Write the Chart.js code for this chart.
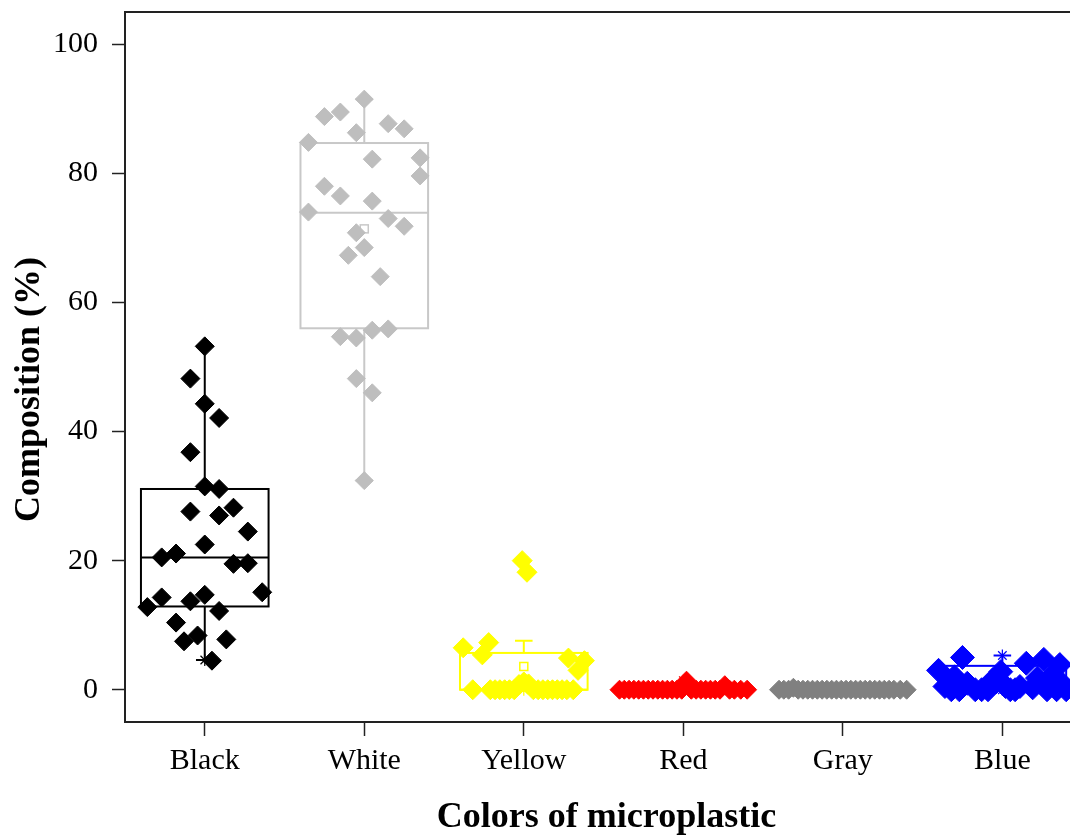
<!DOCTYPE html>
<html>
<head>
<meta charset="utf-8">
<title>Colors of microplastic</title>
<script src="https://cdn.jsdelivr.net/npm/chart.js@4.4.1/dist/chart.umd.min.js"></script>
<style>
    html, body { margin: 0; padding: 0; background: #ffffff; overflow: hidden; }
</style>
</head>
<body>
<canvas id="grafico" width="1070" height="839"></canvas>
<script>
const categories = ["Black", "White", "Yellow", "Red", "Gray", "Blue"];
const yTickValues = [0, 20, 40, 60, 80, 100];

// composition (%) of each sample, with its horizontal jitter (category units)
const blackValues = [53.2, 48.2, 44.3, 42.1, 36.8, 31.5, 31.1, 27.6, 27.0, 28.2, 24.5, 22.5, 20.5, 21.1, 19.5, 19.6, 15.1, 12.8, 14.3, 13.7, 14.7, 12.2, 10.4, 7.5, 8.4, 7.8, 4.5];
const blackJitter = [0, -0.09, 0, 0.09, -0.09, 0, 0.09, -0.09, 0.09, 0.18, 0.27, 0, -0.27, -0.18, 0.18, 0.27, 0.36, -0.36, -0.27, -0.09, 0, 0.09, -0.18, -0.13, -0.045, 0.135, 0.045];

const whiteValues = [91.5, 88.8, 89.5, 87.7, 86.9, 86.3, 84.8, 82.2, 82.4, 79.6, 78.0, 76.5, 75.7, 74.0, 73.0, 71.8, 70.8, 68.5, 67.3, 64.0, 54.7, 54.5, 55.7, 55.9, 48.2, 46.0, 32.4];
const whiteJitter = [0, -0.25, -0.15, 0.15, 0.25, -0.05, -0.35, 0.05, 0.35, 0.35, -0.25, -0.15, 0.05, -0.35, 0.15, 0.25, -0.05, 0, -0.1, 0.1, -0.15, -0.05, 0.05, 0.15, -0.05, 0.05, 0];

const yellowValues = [20.0, 18.2, 6.5, 7.3, 5.4, 4.9, 4.5, 3.0, 0, 0, 0, 0, 0, 0, 0, 0.8, 1.2, 0.9, 0, 0, 0, 0, 0, 0, 0, 0, 0];
const yellowJitter = [-0.01, 0.02, -0.38, -0.22, -0.26, 0.28, 0.38, 0.34, -0.32, -0.21, -0.18, -0.15, -0.12, -0.09, -0.06, -0.03, 0, 0.03, 0.06, 0.09, 0.12, 0.15, 0.18, 0.21, 0.24, 0.27, 0.31];

const redValues = [0, 0, 0, 0, 0, 0, 0, 0, 0, 0, 0, 0, 0, 0, 1.4, 0, 0, 0, 0, 0, 0, 0, 0.7, 0, 0, 0, 0];
const redJitter = [-0.40, -0.37, -0.34, -0.31, -0.28, -0.25, -0.22, -0.19, -0.16, -0.13, -0.10, -0.07, -0.04, -0.01, 0.02, 0.05, 0.08, 0.11, 0.14, 0.17, 0.20, 0.23, 0.26, 0.29, 0.32, 0.36, 0.40];

const grayValues = [0, 0, 0, 0.3, 0, 0, 0, 0, 0, 0, 0, 0, 0, 0, 0, 0, 0, 0, 0, 0, 0, 0, 0, 0, 0, 0, 0];
const grayJitter = [-0.40, -0.37, -0.34, -0.31, -0.28, -0.25, -0.22, -0.19, -0.16, -0.13, -0.10, -0.07, -0.04, -0.01, 0.02, 0.05, 0.08, 0.11, 0.14, 0.17, 0.20, 0.23, 0.26, 0.29, 0.32, 0.36, 0.40];

const blueValues = [5.0, 3.0, 0.5, 2.0, 1.0, 0, 0, 0, 0, 1.5, 2.8, 0.5, 0, 0, 0.5, 4.1, 0.3, 1.8, 4.7, 0, 2.1, 0, 3.9, 0, 1.2, 0, 0.8];
const blueJitter = [-0.25, -0.40, -0.36, -0.30, -0.22, -0.32, -0.17, -0.13, -0.09, -0.06, -0.01, 0.02, 0.05, 0.08, 0.11, 0.15, 0.19, 0.22, 0.26, 0.28, 0.31, 0.34, 0.36, 0.40, -0.04, -0.27, 0.38];

// box statistics per category
const boxQ1 = [12.9, 56.0, 0, 0, 0, 0];
const boxMedian = [20.5, 73.9, 0, 0, 0, 1.1];
const boxQ3 = [31.1, 84.7, 5.7, 0, 0, 3.7];
const whiskerLow = [4.6, 32.4, 0, 0, 0, 0];
const whiskerHigh = [53.2, 91.5, 7.6, 0, 0, 5.3];
const boxMean = [22.5, 71.4, 3.6, 0.1, 0, 1.8];
const boxMin = [4.6, 32.4, 0, 0, 0, 0];
const boxMax = [53.2, 91.5, 20.0, 1.4, 0.3, 5.3];

// estilos
const pointColors = ["#000000", "#bebebe", "#ffff00", "#ff0000", "#808080", "#0000ff"];
const boxColors = ["#000000", "#c8c8c8", "#ffff00", "#ff0000", "#808080", "#0000ff"];
const pointSizes = [9.5, 9, 10, 9.5, 9.5, 12];
const boxHalfWidth = 0.4;
const capHalfWidth = 0.055;
const serif = "'Liberation Serif', 'Times New Roman', serif";
const nbsp = "\u00a0";

const seriesValues = [blackValues, whiteValues, yellowValues, redValues, grayValues, blueValues];
const seriesJitter = [blackJitter, whiteJitter, yellowJitter, redJitter, grayJitter, blueJitter];

function buildPoints(values, jitter, index) {
    return values.map((v, k) => ({ x: index + 1 + jitter[k], y: v }));
}

function drawStar(ctx, x, y, r) {
    ctx.beginPath();
    for (let a = 0; a < 4; a++) {
        let ang = a * Math.PI / 4;
        ctx.moveTo(x - r * Math.cos(ang), y - r * Math.sin(ang));
        ctx.lineTo(x + r * Math.cos(ang), y + r * Math.sin(ang));
    }
    ctx.stroke();
}

function noPadding(scale) {
    scale.paddingLeft = 0;
    scale.paddingRight = 0;
    scale.paddingTop = 0;
    scale.paddingBottom = 0;
}

// caixas, bigodes, media e min/max desenhados atras dos pontos
const boxPlugin = {
    id: "boxes",
    beforeDatasetsDraw(chart) {
        let ctx = chart.ctx;
        let xs = chart.scales.x;
        let ys = chart.scales.y;
        let area = chart.chartArea;

        ctx.save();
        ctx.beginPath();
        ctx.rect(area.left, area.top, area.right - area.left, area.bottom - area.top);
        ctx.clip();

        categories.forEach((cat, i) => {
            let c = i + 1;
            let xl = xs.getPixelForValue(c - boxHalfWidth);
            let xr = xs.getPixelForValue(c + boxHalfWidth);
            let xm = xs.getPixelForValue(c);
            let capL = xs.getPixelForValue(c - capHalfWidth);
            let capR = xs.getPixelForValue(c + capHalfWidth);
            let yQ1 = ys.getPixelForValue(boxQ1[i]);
            let yQ3 = ys.getPixelForValue(boxQ3[i]);
            let yMed = ys.getPixelForValue(boxMedian[i]);
            let yLo = ys.getPixelForValue(whiskerLow[i]);
            let yHi = ys.getPixelForValue(whiskerHigh[i]);

            ctx.strokeStyle = boxColors[i];
            ctx.lineWidth = 2;

            // whiskers
            ctx.beginPath();
            ctx.moveTo(xm, yQ3); ctx.lineTo(xm, yHi);
            ctx.moveTo(capL, yHi); ctx.lineTo(capR, yHi);
            ctx.moveTo(xm, yQ1); ctx.lineTo(xm, yLo);
            ctx.moveTo(capL, yLo); ctx.lineTo(capR, yLo);
            ctx.stroke();

            // box + median
            ctx.strokeRect(xl, yQ3, xr - xl, yQ1 - yQ3);
            ctx.beginPath();
            ctx.moveTo(xl, yMed); ctx.lineTo(xr, yMed);
            ctx.stroke();

            // mean (open square)
            ctx.lineWidth = 1.5;
            let yMean = ys.getPixelForValue(boxMean[i]);
            ctx.strokeRect(xm - 4, yMean - 4, 8, 8);

            // min and max markers
            ctx.lineWidth = 1.2;
            drawStar(ctx, xm, ys.getPixelForValue(boxMin[i]), 6);
            drawStar(ctx, xm, ys.getPixelForValue(boxMax[i]), 6);
        });
        ctx.restore();

        // top frame line
        ctx.save();
        ctx.strokeStyle = "#222222";
        ctx.lineWidth = 2;
        ctx.beginPath();
        ctx.moveTo(area.left - 1, area.top);
        ctx.lineTo(area.right, area.top);
        ctx.stroke();
        ctx.restore();
    }
};

let datasets = categories.map((cat, i) => ({
    label: cat,
    data: buildPoints(seriesValues[i], seriesJitter[i], i),
    pointStyle: "rectRot",
    pointRadius: pointSizes[i],
    pointHoverRadius: pointSizes[i],
    backgroundColor: pointColors[i],
    borderColor: pointColors[i],
    borderWidth: 1
}));

let ctx = document.getElementById("grafico").getContext("2d");

window.graficoCores = new Chart(ctx, {
    type: "scatter",
    data: { datasets: datasets },
    plugins: [boxPlugin],
    options: {
        responsive: false,
        animation: false,
        devicePixelRatio: 1,
        layout: { autoPadding: false, padding: { top: 12, right: 0, bottom: 0, left: 0 } },
        plugins: {
            legend: { display: false },
            tooltip: { enabled: false }
        },
        scales: {
            x: {
                type: "linear",
                min: 0.5,
                max: 6.424,
                afterBuildTicks: function (scale) {
                    scale.ticks = categories.map((c, i) => ({ value: i + 1 }));
                },
                afterFit: function (scale) {
                    scale.height = 117;
                    noPadding(scale);
                },
                ticks: {
                    callback: v => categories[v - 1],
                    font: { family: serif, size: 30 },
                    color: "#000000",
                    padding: 7,
                    maxRotation: 0,
                    autoSkip: false
                },
                grid: { drawOnChartArea: false, tickLength: 14, tickColor: "#222222", tickWidth: 1.5 },
                border: { color: "#222222", width: 2 },
                title: {
                    display: true,
                    // leading spaces nudge the title a little right, as in the original
                    text: nbsp + nbsp + "Colors of microplastic",
                    font: { family: serif, size: 36, weight: "bold" },
                    color: "#000000",
                    padding: 0
                }
            },
            y: {
                min: -5,
                max: 105,
                afterBuildTicks: function (scale) {
                    scale.ticks = yTickValues.map(v => ({ value: v }));
                },
                afterFit: function (scale) {
                    scale.width = 125;
                    noPadding(scale);
                },
                ticks: {
                    font: { family: serif, size: 30 },
                    color: "#000000",
                    padding: 14
                },
                grid: { drawOnChartArea: false, tickLength: 13, tickColor: "#222222", tickWidth: 1.5 },
                border: { color: "#222222", width: 2 },
                title: {
                    display: true,
                    // trailing spaces push the rotated title down toward the middle of the data
                    text: "Composition (%)" + nbsp.repeat(5),
                    font: { family: serif, size: 36, weight: "bold" },
                    color: "#000000",
                    padding: { top: 8, bottom: 0 }
                }
            }
        }
    }
});
</script>
</body>
</html>
